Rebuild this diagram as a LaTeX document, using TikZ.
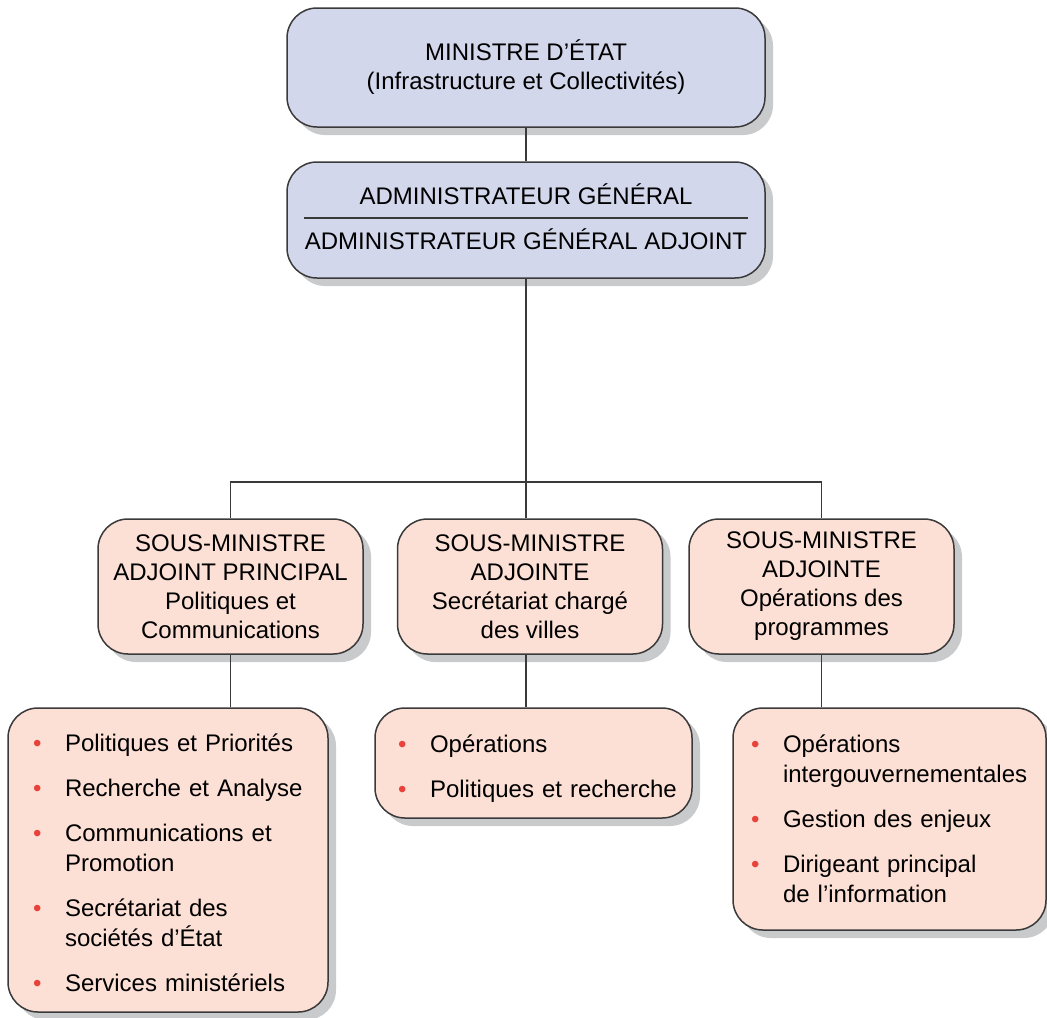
\documentclass[tikz,border=0pt]{standalone}
\usepackage{fontspec}
\setmainfont{Liberation Sans}
\usepackage{tikz}
\usetikzlibrary{shadows,calc,positioning}
\usepackage{xcolor}
\definecolor{ministerblue}{HTML}{D3D7EC}
\definecolor{deputypink}{HTML}{FCDFD5}
\definecolor{shadowgray}{HTML}{C9CACC}
\definecolor{bulletred}{HTML}{E8423A}
\definecolor{linedark}{HTML}{3A3A3A}

\newcommand{\bul}[1]{\mbox{\makebox[16pt][l]{\textcolor{bulletred}{\textbullet}}#1}}
\newcommand{\cont}[1]{\mbox{\hspace{16pt}#1}}

\begin{document}
\begin{tikzpicture}[x=0.5pt, y=-0.5pt,
    box/.style={draw=linedark, line width=0.75pt, rounded corners=15pt, align=center, inner sep=0pt,
        font=\fontsize{12}{14.5}\selectfont,
        drop shadow={shadow xshift=4pt, shadow yshift=-4pt, fill=shadowgray, opacity=1}},
    topbox/.style={box, fill=ministerblue, minimum width=239pt},
    deputybox/.style={box, fill=deputypink, minimum width=132.5pt, minimum height=67.5pt},
    listbox/.style={box, fill=deputypink, align=left, font=\fontsize{12}{15}\selectfont},
    link/.style={draw=linedark, line width=0.75pt}]
    \useasboundingbox (0,0) rectangle (1047,1017);

    % Minister and administrators
    \node[topbox, minimum height=59.5pt] (ministre) at (526,67.5) {MINISTRE D’ÉTAT\\(Infrastructure et Collectivités)};
    \node[topbox, minimum height=58pt] (admin) at (526,220) {ADMINISTRATEUR GÉNÉRAL\\[8pt]ADMINISTRATEUR GÉNÉRAL ADJOINT\rule[-3pt]{0pt}{0pt}};
    \draw[link] ($(admin.west)+(18,-2)$) -- ($(admin.east)+(-18,-2)$);

    % Deputy ministers
    \node[deputybox] (smpol) at (230.5,586.5) {SOUS-MINISTRE\\ADJOINT PRINCIPAL\\Politiques et\\Communications};
    \node[deputybox] (smvil) at (530,586.5) {SOUS-MINISTRE\\ADJOINTE\\Secrétariat chargé\\des villes};
    \node[deputybox] (smprog) at (821.5,586.5) {SOUS-MINISTRE\\ADJOINTE\\Opérations des\\programmes};

    % Branch lists
    \node[listbox, minimum width=160pt, minimum height=152pt, text width=135pt] (polbox) at (168,860) {%
        \rule{0pt}{11.9pt}\bul{Politiques et Priorités}\\[7.5pt]
        \bul{Recherche et Analyse}\\[7.5pt]
        \bul{Communications et}\\\cont{Promotion}\\[7.5pt]
        \bul{Secrétariat des}\\\cont{sociétés d’État}\\[7.5pt]
        \bul{Services ministériels}};
    \node[listbox, minimum width=158.5pt, minimum height=55pt, text width=135.5pt] (vilbox) at (533.5,763) {%
        \rule{0pt}{14.3pt}\bul{Opérations}\\[7.5pt]
        \bul{Politiques et recherche}};
    \node[listbox, minimum width=156.5pt, minimum height=111pt, text width=138.5pt] (progbox) at (889.5,819) {%
        \bul{Opérations}\\\cont{intergouvernementales}\\[7.5pt]
        \bul{Gestion des enjeux}\\[7.5pt]
        \bul{Dirigeant principal}\\\cont{de l’information}};

    % Connectors
    \coordinate (bar) at (526,482);
    \draw[link] (ministre) -- (admin);
    \draw[link] (admin) -- (bar);
    \draw[link] (smpol) |- (bar) -| (smprog);
    \draw[link] (bar) -- (bar |- smvil.north);
    \draw[link] (smpol.south) -- (smpol.south |- polbox.north);
    \draw[link] (smvil.south -| bar) -- (vilbox.north -| bar);
    \draw[link] (smprog.south) -- (smprog.south |- progbox.north);
\end{tikzpicture}
\end{document}
